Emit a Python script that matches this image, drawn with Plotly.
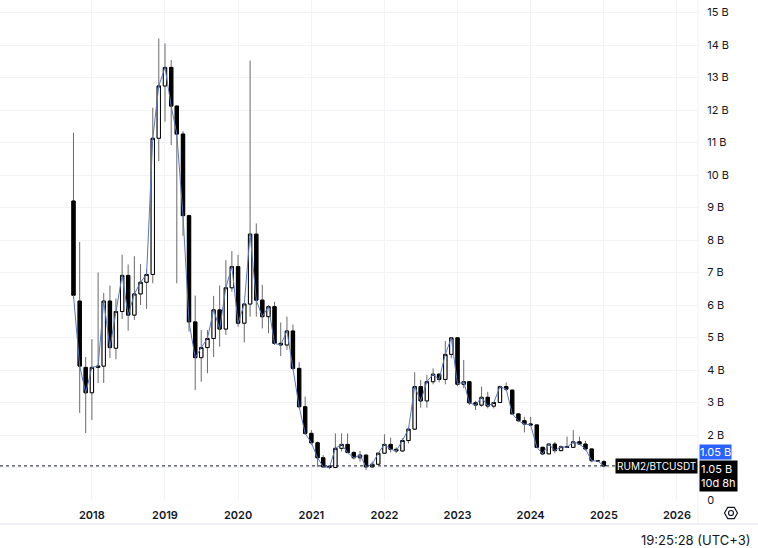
import plotly.graph_objects as go
import pandas as pd
import math

# Monthly candles, Oct 2017 .. Jan 2025 (values in billions)
months = pd.date_range("2017-10-01", periods=88, freq="MS")

opens = [9.2, 6.12, 4.08,
         3.30, 4.08, 4.12, 6.12, 4.67, 5.8, 6.91, 5.69, 6.34, 6.7, 6.94, 11.13,
         12.74, 13.31, 12.12, 11.26, 8.75, 5.48, 4.38, 4.69, 4.97, 5.85, 5.26, 6.53,
         7.18, 5.44, 6.03, 8.18, 6.15, 5.64, 5.95, 4.82, 4.77, 5.2, 4.05, 2.87,
         2.05, 1.76, 1.30, 1.04, 1.0, 1.59, 1.71, 1.46, 1.30, 1.38, 1.02, 1.10,
         1.44, 1.71, 1.56, 1.51, 1.83, 2.18, 3.49, 3.05, 3.64, 3.87, 3.71, 4.48,
         4.99, 3.56, 3.64, 2.99, 2.92, 3.16, 2.89, 3.0, 3.49, 3.38, 2.65, 2.44,
         2.34, 2.31, 1.62, 1.42, 1.72, 1.52, 1.64, 1.62, 1.79, 1.72, 1.57, 1.21,
         1.18]
highs = [11.3, 7.94, 4.4,
         4.95, 7.0, 6.37, 6.6, 6.2, 7.55, 7.25, 7.5, 7.26, 7.1, 12.07, 14.2,
         14.05, 13.54, 12.15, 11.35, 8.78, 6.29, 5.23, 5.23, 6.28, 6.6, 7.38, 7.66,
         7.54, 6.05, 13.52, 8.51, 6.62, 6.0, 6.1, 5.46, 5.64, 5.4, 4.24, 3.18,
         2.15, 1.8, 1.38, 1.06, 2.05, 2.05, 2.05, 1.51, 1.51, 1.4, 1.18, 1.46,
         2.02, 1.92, 1.62, 1.9, 2.24, 3.93, 3.69, 3.85, 4.05, 3.9, 4.89, 5.0,
         5.0, 4.31, 3.66, 3.05, 3.49, 3.33, 3.02, 3.52, 3.62, 3.4, 2.67, 2.56,
         2.56, 2.32, 1.64, 1.74, 1.79, 1.68, 1.95, 2.15, 1.95, 1.82, 1.59, 1.23,
         1.23]
lows = [6.2, 2.68, 2.06,
        2.46, 3.6, 3.6, 4.37, 4.33, 5.57, 5.21, 5.54, 6.0, 5.88, 6.67, 10.43,
        11.64, 10.92, 6.67, 8.13, 5.18, 3.38, 3.64, 3.9, 4.4, 4.72, 5.08, 6.41,
        5.33, 4.85, 5.64, 5.64, 5.28, 5.13, 4.77, 4.43, 4.62, 4.0, 2.82, 2.0,
        1.69, 1.02, 0.99, 0.95, 0.98, 1.49, 1.44, 1.25, 1.18, 0.92, 0.99, 1.08,
        1.42, 1.46, 1.45, 1.49, 1.74, 2.16, 2.84, 2.84, 3.56, 3.62, 3.56, 4.36,
        3.5, 3.44, 2.92, 2.77, 2.87, 2.82, 2.82, 2.98, 3.35, 2.62, 2.4, 2.08,
        2.3, 1.6, 1.38, 1.41, 1.44, 1.5, 1.6, 1.6, 1.7, 1.52, 1.16, 1.17,
        1.0]
closes = [6.3, 4.12, 3.30,
          4.08, 4.12, 6.12, 4.69, 5.8, 6.91, 5.69, 6.34, 6.7, 6.94, 11.13, 12.74,
          13.31, 12.12, 11.26, 8.75, 5.48, 4.38, 4.69, 4.97, 5.85, 5.26, 6.53, 7.18,
          5.44, 6.03, 8.18, 6.15, 5.64, 5.95, 4.82, 4.77, 5.2, 4.05, 2.87, 2.05,
          1.76, 1.30, 1.02, 1.0, 1.59, 1.71, 1.46, 1.30, 1.38, 1.02, 1.10, 1.44,
          1.71, 1.56, 1.51, 1.83, 2.18, 3.49, 3.05, 3.64, 3.87, 3.71, 4.48, 4.99,
          3.56, 3.64, 2.99, 2.92, 3.16, 2.89, 3.0, 3.49, 3.41, 2.65, 2.44, 2.34,
          2.31, 1.62, 1.42, 1.72, 1.52, 1.64, 1.62, 1.79, 1.72, 1.57, 1.21, 1.2,
          1.05]

year_ticks = [f"{y}-01-01" for y in range(2018, 2027)]
year_labels = [str(y) for y in range(2018, 2027)]
price_ticks = list(range(0, 16))
price_labels = ["0", ""] + [f"{v} B" for v in range(2, 16)]
last_price = 1.05
symbol = "RUM2/BTCUSDT"
countdown = "10d 8h"
clock = "19:25:28 (UTC+3)"

W, H = 698, 500  # plot area in pixels
def px(x):
    return x / W
def py(y):
    return (H - y) / H

FONT = "Inter, Roboto, sans-serif"
TXT = "#131722"

fig = go.Figure()

fig.add_trace(go.Scatter(x=months, y=closes, mode="lines",
                         line=dict(color="#5b76bd", width=1),
                         hoverinfo="skip", showlegend=False))

# wicks (gray)
fig.add_trace(go.Candlestick(
    x=months, open=opens, high=highs, low=lows, close=closes,
    increasing=dict(line=dict(color="#6a6a6a", width=1), fillcolor="rgba(0,0,0,0)"),
    decreasing=dict(line=dict(color="#6a6a6a", width=1), fillcolor="rgba(0,0,0,0)"),
    whiskerwidth=0, showlegend=False, hoverinfo="skip"))

# bodies
body_hi = [max(o, c) for o, c in zip(opens, closes)]
body_lo = [min(o, c) for o, c in zip(opens, closes)]
fig.add_trace(go.Candlestick(
    x=months, open=opens, high=body_hi, low=body_lo, close=closes,
    increasing=dict(line=dict(color="#000000", width=1), fillcolor="#ffffff"),
    decreasing=dict(line=dict(color="#000000", width=1), fillcolor="#000000"),
    whiskerwidth=0, showlegend=False))

shapes = []
# last price dotted line
shapes.append(dict(type="line", xref="paper", yref="y", x0=0, x1=1,
                   y0=last_price, y1=last_price,
                   line=dict(color="#131722", width=1, dash="dot")))
# right border of plot and bottom separator
shapes.append(dict(type="line", xref="paper", yref="paper", x0=1, x1=1,
                   y0=py(524), y1=1, line=dict(color="#eef0f4", width=1)))
shapes.append(dict(type="line", xref="paper", yref="paper", x0=0, x1=px(758),
                   y0=py(524), y1=py(524), line=dict(color="#e0e3eb", width=1)))
# gear icon: hexagon + circle
cx, cy, r = 731, 513, 6.5
pts = []
for k in range(6):
    a = math.radians(60 * k)
    pts.append((px(cx + r * math.cos(a)), py(cy + r * math.sin(a))))
path = "M " + " L ".join(f"{x:.5f},{y:.5f}" for x, y in pts) + " Z"
shapes.append(dict(type="path", xref="paper", yref="paper", path=path,
                   line=dict(color="#131722", width=1.2)))
shapes.append(dict(type="circle", xref="paper", yref="paper",
                   x0=px(cx - 2.5), x1=px(cx + 2.5), y0=py(cy + 2.5), y1=py(cy - 2.5),
                   line=dict(color="#131722", width=1.2)))

annotations = [
    dict(xref="paper", yref="paper", x=px(699), y=py(459.5), xanchor="left", yanchor="bottom",
         text=f"{last_price:.2f} B", showarrow=False, bgcolor="#2962ff",
         font=dict(color="white", size=11, family=FONT), borderpad=0),
    dict(xref="paper", yref="paper", x=px(699), y=py(459.5), xanchor="left", yanchor="top",
         text=f"{last_price:.2f} B<br>{countdown}", showarrow=False, bgcolor="#000000",
         align="left", font=dict(color="white", size=11, family=FONT), borderpad=1),
    dict(xref="paper", yref="paper", x=px(698), y=py(465.5), xanchor="right", yanchor="middle",
         text=symbol, showarrow=False, bgcolor="#000000",
         font=dict(color="white", size=10, family=FONT), borderpad=1),
    dict(xref="paper", yref="paper", x=px(752), y=py(540), xanchor="right", yanchor="middle",
         text=clock, showarrow=False, font=dict(color=TXT, size=13, family=FONT)),
]

fig.update_layout(
    width=758, height=548,
    margin=dict(l=0, r=60, t=0, b=48),
    paper_bgcolor="white", plot_bgcolor="white",
    font=dict(family=FONT, color=TXT, size=11),
    boxgap=0.15,
    showlegend=False,
    shapes=shapes,
    annotations=annotations,
    xaxis=dict(type="date", range=["2016-09-29", "2026-04-16"],
               tickvals=year_ticks, ticktext=year_labels,
               showgrid=True, gridcolor="#f2f3f6", gridwidth=1,
               ticks="outside", ticklen=5, tickcolor="rgba(0,0,0,0)",
               tickfont=dict(size=11, color=TXT, family=FONT, weight=600),
               rangeslider=dict(visible=False), zeroline=False, showline=False,
               fixedrange=True),
    yaxis=dict(side="right", range=[0, 500 / 32.5],
               tickvals=price_ticks, ticktext=price_labels,
               showgrid=True, gridcolor="#f2f3f6", gridwidth=1,
               ticks="outside", ticklen=6, tickcolor="rgba(0,0,0,0)",
               tickfont=dict(size=11, color=TXT, family=FONT),
               zeroline=False, showline=False, fixedrange=True),
)

fig.write_html("out.html")
